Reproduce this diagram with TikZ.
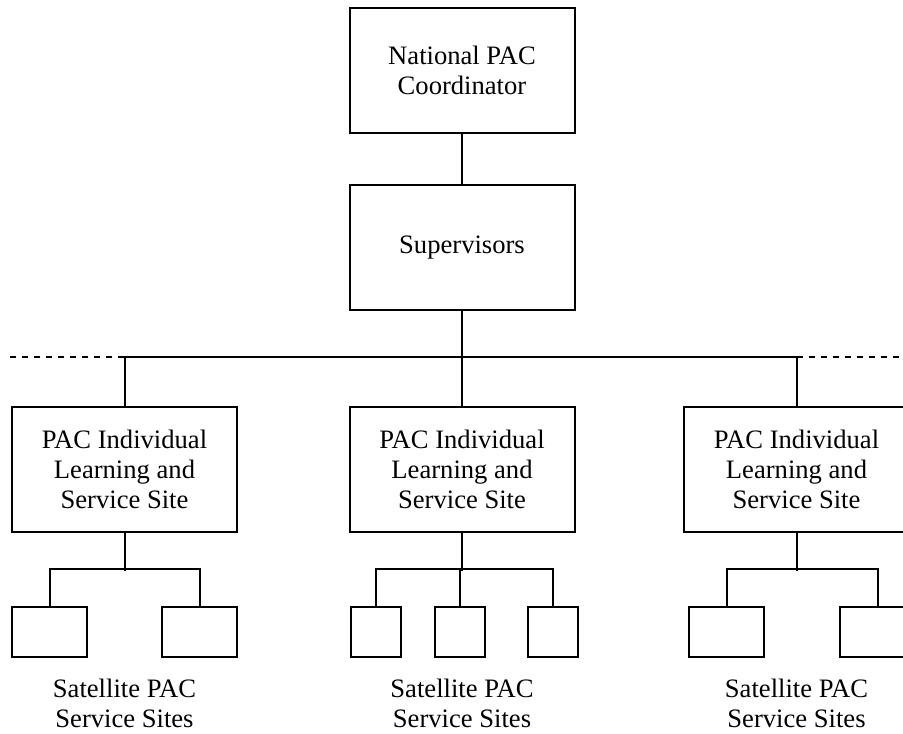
\documentclass[tikz,border=0pt]{standalone}
\usepackage{fontspec}
\setmainfont{Liberation Serif}
\usepackage{tikz}
\usetikzlibrary{positioning}
\tikzset{
  box/.style={draw,line width=1pt,align=center,minimum width=112.5pt,minimum height=62.5pt,inner sep=2pt},
  leaf/.style={draw,line width=1pt,minimum width=37.5pt,minimum height=25pt,inner sep=0pt},
  thin leaf/.style={leaf,minimum width=25pt},
  lab/.style={align=center,inner sep=0pt},
  conn/.style={line width=1pt},
}

\begin{document}
\begin{tikzpicture}[x=0.5pt,y=-0.5pt,font=\fontsize{13.3}{15}\selectfont]
\useasboundingbox (0,0) rectangle (903,733);
\clip (0,0) rectangle (903,733);

% top of the chart
\node[box] (nat) at (462,70.5) {National PAC\\Coordinator};
\node[box, below=25pt of nat] (sup) {Supervisors};

% individual sites
\node[box] (site1) at (124.5,469.5) {PAC Individual\\Learning and\\Service Site};
\node[box] (site2) at (462,469.5) {PAC Individual\\Learning and\\Service Site};
\node[box] (site3) at (796.5,469.5) {PAC Individual\\Learning and\\Service Site};

\coordinate (busL) at (10,357);
\coordinate (busR) at (903,357);

\draw[conn] (nat) -- (sup);
\draw[conn] (sup.south) -- (sup.south |- busL);
\draw[conn] (site1.north) -- (site1.north |- busL) -- (site3.north |- busL) -- (site3.north);
\draw[conn] (site2.north) -- (site2.north |- busL);
\draw[conn,dashed] (busL) -- (site1.north |- busL);
\draw[conn,dashed] (site3.north |- busL) -- (busR);

% satellite sites
\node[leaf] (sat1a) at (49.5,632) {};
\node[leaf] (sat1b) at (199.5,632) {};
\node[thin leaf] (sat2a) at (376,632) {};
\node[thin leaf] (sat2b) at (460,632) {};
\node[thin leaf] (sat2c) at (553,632) {};
\node[leaf] (sat3a) at (726.5,632) {};
\node[leaf] (sat3b) at (877.5,632) {};

\draw[conn] (site1.south) -- ++(0,38);
\draw[conn] (sat1a.north) -- ++(0,-37) -| (sat1b.north);
\draw[conn] (site2.south) -- ++(0,38);
\draw[conn] (sat2a.north) -- ++(0,-37) -| (sat2c.north);
\draw[conn] (sat2b.north) -- ++(0,-37);
\draw[conn] (site3.south) -- ++(0,38);
\draw[conn] (sat3a.north) -- ++(0,-37) -| (sat3b.north);

\node[lab] (lab1) at (124.5,703) {Satellite PAC\\Service Sites};
\node[lab] (lab2) at (462,703) {Satellite PAC\\Service Sites};
\node[lab] (lab3) at (796.5,703) {Satellite PAC\\Service Sites};
\end{tikzpicture}
\end{document}
